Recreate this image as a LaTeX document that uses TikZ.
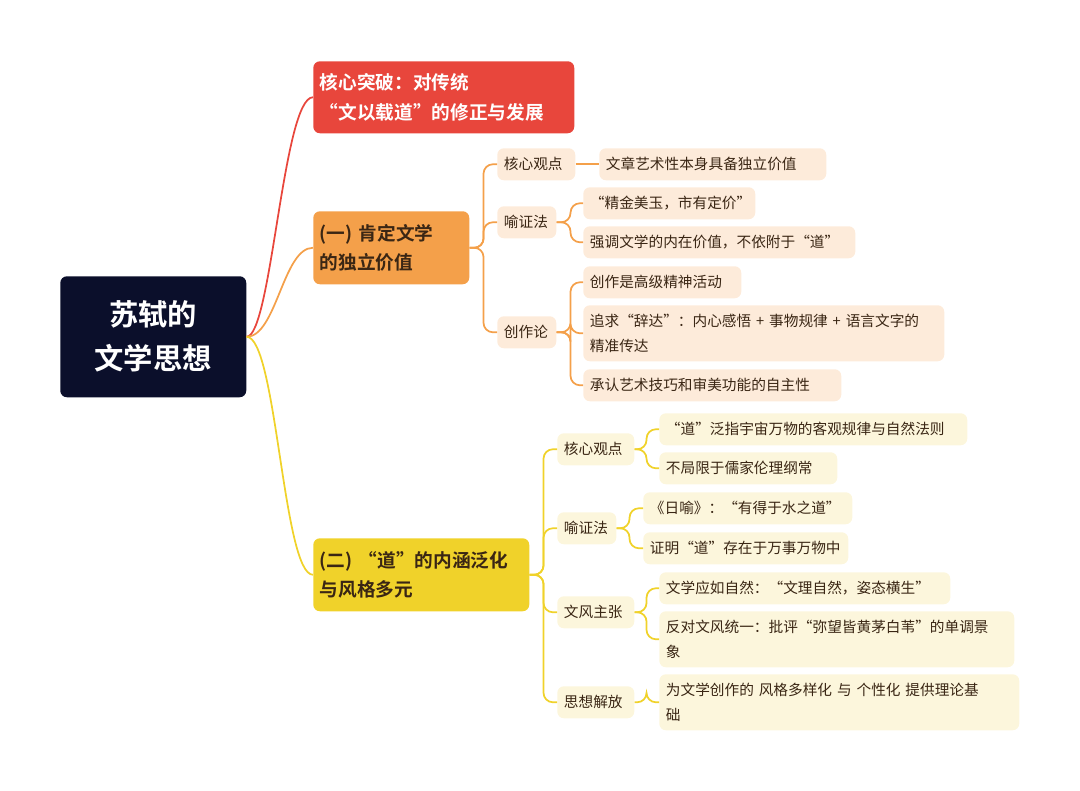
\documentclass[tikz,border=0pt]{standalone}
\usepackage{fontspec}
\setmainfont{Noto Sans CJK SC}[BoldFont={Noto Sans CJK SC Bold}]
\usetikzlibrary{calc}
\definecolor{rootbg}{HTML}{0B0F2B}
\definecolor{redc}{HTML}{E8463C}
\definecolor{orgc}{HTML}{F4A04A}
\definecolor{ylwc}{HTML}{F0D22A}
\definecolor{orgl}{HTML}{FDEBDA}
\definecolor{ylwl}{HTML}{FCF6DC}
\definecolor{txtc}{HTML}{3A2614}
\tikzset{
  box/.style={rounded corners=5pt, inner xsep=5pt, inner ysep=0pt, align=left},
  rootn/.style={box, fill=rootbg, text=white, align=center, font=\fontsize{22}{33}\selectfont\bfseries},
  mainn/.style={box, font=\fontsize{14}{22}\selectfont\bfseries},
  leafO/.style={box, fill=orgl, text=txtc, font=\fontsize{11}{19}\selectfont},
  leafY/.style={box, fill=ylwl, text=txtc, font=\fontsize{11}{19}\selectfont},
  lnR/.style={draw=redc, line width=1.3pt},
  lnO/.style={draw=orgc, line width=1.3pt, rounded corners=7pt},
  lnY/.style={draw=ylwc, line width=1.3pt, rounded corners=7pt},
}
% #1 name, #2 style, #3-#6 corners in px, #7 text
\newcommand\bx[7]{%
  \pgfmathsetmacro\bw{(#5-#3)*0.75-10}%
  \pgfmathsetmacro\bh{(#6-#4)*0.75}%
  \node[#2, text width=\bw pt, minimum height=\bh pt, anchor=north west] (#1) at (#3,#4) {#7};}
\begin{document}
\begin{tikzpicture}[x=0.75pt, y=-0.75pt]
\useasboundingbox (0,0) rectangle (1080,791);
% main
\bx{root}{rootn}{60}{276}{246}{397}{苏轼的\\文学思想}
\bx{brk}{mainn, fill=redc, text=white}{313}{61}{574}{133}{核心突破：对传统\\“文以载道”的修正与发展}
\bx{ind}{mainn, fill=orgc, text=txtc}{313}{211}{469}{284}{(一) 肯定文学\\的独立价值}
\bx{dao}{mainn, fill=ylwc, text=txtc}{313}{538}{529}{611}{(二) “道”的内涵泛化\\与风格多元}
\draw[lnR] (root.east) .. controls +(25,0) and +(-30,0) .. (brk.west);
\draw[lnO, rounded corners=0pt] (root.east) .. controls +(30,0) and +(-30,0) .. (ind.west);
\draw[lnY, rounded corners=0pt] (root.east) .. controls +(30,0) and +(-30,0) .. (dao.west);
% first branch
\bx{oa}{leafO}{497}{148}{575}{180}{核心观点}
\bx{ob}{leafO}{497}{206}{556}{238}{喻证法}
\bx{oc}{leafO}{497}{316}{556}{348}{创作论}
\foreach \s in {oa,ob,oc} \draw[lnO] (ind.east) -- ++(14,0) |- (\s.west);
\bx{oa1}{leafO}{599}{148}{826}{180}{文章艺术性本身具备独立价值}
\draw[lnO] (oa.east) -- (oa1.west);
\bx{ob1}{leafO}{583}{187}{755}{219}{“精金美玉，市有定价”}
\bx{ob2}{leafO}{583}{226}{855}{258}{强调文学的内在价值，不依附于“道”}
\foreach \s in {ob1,ob2} \draw[lnO] (ob.east) -- ++(14,0) |- (\s.west);
\bx{oc1}{leafO}{583}{266}{741}{298}{创作是高级精神活动}
\bx{oc2}{leafO}{583}{305}{944}{361}{追求“辞达”：内心感悟 + 事物规律 + 语言文字的\\精准传达}
\bx{oc3}{leafO}{583}{369}{841}{401}{承认艺术技巧和审美功能的自主性}
\foreach \s in {oc1,oc2,oc3} \draw[lnO] (oc.east) -- ++(14,0) |- (\s.west);
% second branch
\bx{ya}{leafY}{557}{433}{634}{465}{核心观点}
\bx{yb}{leafY}{557}{512}{616}{544}{喻证法}
\bx{yc}{leafY}{557}{596}{634}{628}{文风主张}
\bx{yd}{leafY}{557}{686}{634}{718}{思想解放}
\foreach \s in {ya,yb,yc,yd} \draw[lnY] (dao.east) -- ++(14,0) |- (\s.west);
\bx{ya1}{leafY}{659}{413}{967}{445}{“道”泛指宇宙万物的客观规律与自然法则}
\bx{ya2}{leafY}{659}{452}{837}{484}{不局限于儒家伦理纲常}
\foreach \s in {ya1,ya2} \draw[lnY] (ya.east) -- ++(12,0) |- (\s.west);
\bx{yb1}{leafY}{643}{492}{852}{524}{《日喻》：“有得于水之道”}
\bx{yb2}{leafY}{643}{532}{848}{564}{证明“道”存在于万事万物中}
\foreach \s in {yb1,yb2} \draw[lnY] (yb.east) -- ++(13,0) |- (\s.west);
\bx{yc1}{leafY}{659}{572}{950}{604}{文学应如自然：“文理自然，姿态横生”}
\bx{yc2}{leafY}{659}{611}{1014}{667}{反对文风统一：批评“弥望皆黄茅白苇”的单调景\\象}
\foreach \s in {yc1,yc2} \draw[lnY] (yc.east) -- ++(12,0) |- (\s.west);
\bx{yd1}{leafY}{659}{674}{1019}{730}{为文学创作的 风格多样化 与 个性化 提供理论基\\础}
\draw[lnY] (yd.east) -- ++(12,0) |- (yd1.west);
\end{tikzpicture}
\end{document}
